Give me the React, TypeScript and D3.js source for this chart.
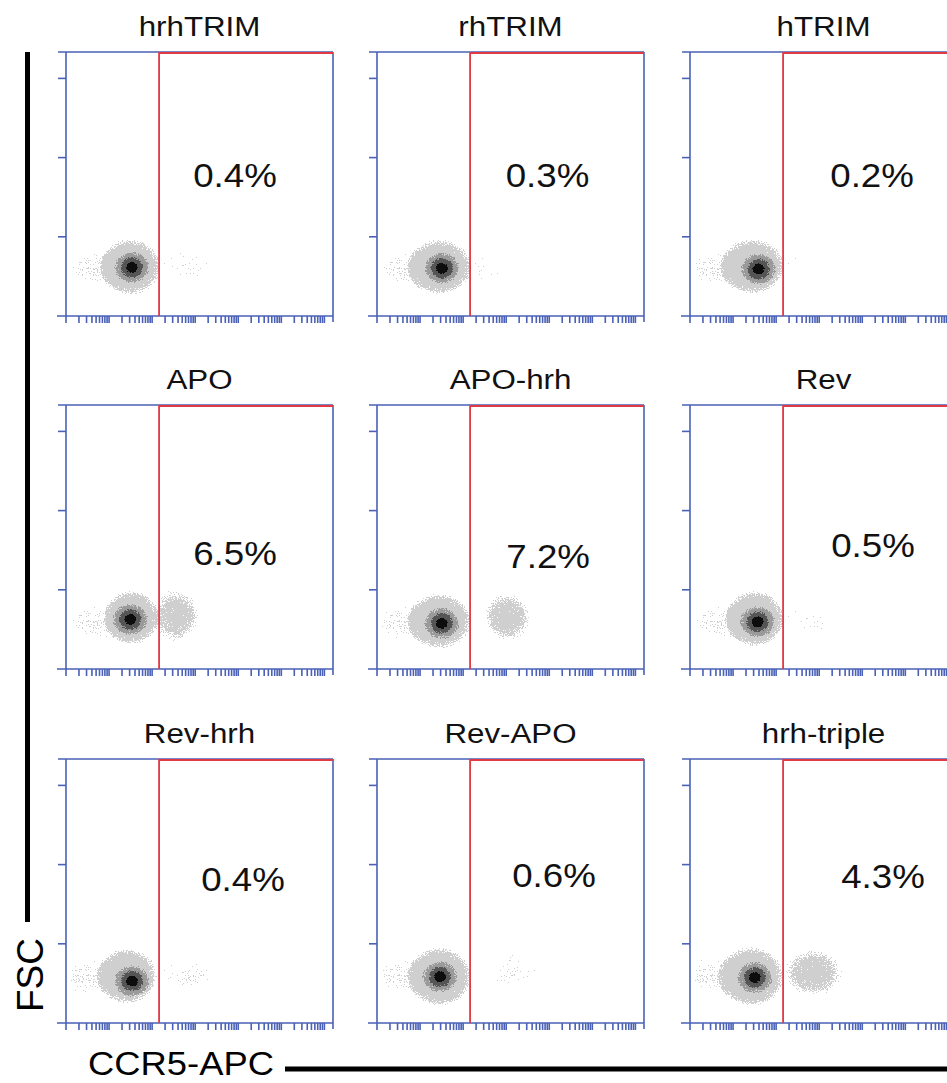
import {useEffect, useRef} from "react"

import * as d3 from "d3"

// one panel per construct, read left to right, top to bottom
const panelTitles = ["hrhTRIM", "rhTRIM", "hTRIM", "APO", "APO-hrh", "Rev", "Rev-hrh", "Rev-APO", "hrh-triple"]
const positivePercent = [0.4, 0.3, 0.2, 6.5, 7.2, 0.5, 0.4, 0.6, 4.3]
const gateCCR5 = 145
const fscTicks = [300, 600, 900]

// CCR5- population: density peak
const peakCCR5 = [34, 32, 39, 31, 32, 37, 34, 29, 32]
const peakFSC = [184, 181, 178, 188, 173, 179, 159, 175, 172]
// CCR5- population: bulk of the events
const bulkCCR5 = [31, 28, 28, 33, 28, 32, 26, 28, 26]
const bulkFSC = [186, 186, 188, 195, 182, 191, 178, 176, 176]
const bulkSpreadLog = [0.7, 0.74, 0.74, 0.64, 0.74, 0.68, 0.7, 0.74, 0.76]
const bulkSpreadFSC = [106, 104, 104, 102, 104, 106, 104, 112, 112]
// dim tail towards low CCR5
const tailCCR5 = [5, 4.5, 4, 5, 4, 5.5, 3.5, 4, 3.5]
const tailFSC = [178, 172, 174, 170, 172, 172, 172, 174, 174]
// CCR5+ events
const posCCR5 = [600, 300, 330, 360, 1050, 560, 700, 1350, 720]
const posFSC = [197, 167, 186, 201, 197, 174, 178, 197, 191]
const posSpreadLog = [0.72, 0.45, 0.5, 0.55, 0.55, 0.75, 0.72, 0.6, 0.68]
const posSpreadFSC = [80, 70, 66, 100, 92, 66, 60, 86, 90]
const posDensity = [0.32, 0.3, 0.25, 0.82, 0.85, 0.3, 0.38, 0.34, 0.85]
// where the percentage is printed
const labelCCR5 = [8400, 9100, 16900, 8400, 9400, 17800, 12900, 12900, 30300]
const labelFSC = [489, 489, 489, 394, 383, 424, 500, 515, 511]

const panelLeft = [66, 377, 690]
const panelTop = [52, 405, 759]
const pw = 267
const ph = 264
const blue = "#4a61b6"
const red = "#e23a44"
const font = "'Liberation Sans', Arial, Helvetica, sans-serif"

const levels = [
  {id: "lv0", color: "#cfcfcf"},
  {id: "lv1", color: "#9a9a9a"},
  {id: "lv2", color: "#555555"},
  {id: "lv3", color: "#0d0d0d"},
]
const coreSizes = [[18, 16], [12, 11], [6.5, 6]]

const App = () => {
  const ref = useRef<SVGSVGElement>(null)
  useEffect(() => {
    const svg = d3.select(ref.current)
    svg.selectAll("*").remove()

    const x = d3.scaleLog().domain([1, 10 ** 6.2]).range([0, pw])
    const y = d3.scaleLinear().domain([0, 1000]).range([ph, 0])
    const decade = x(10) - x(1)
    const fscPx = (v: number) => y(0) - y(v)

    const defs = svg.append("defs")
    const grad = defs.append("radialGradient").attr("id", "blob")
    ;[[0, 1], [0.5, 0.95], [0.75, 0.75], [0.9, 0.52], [1, 0.3]].forEach(([o, a]) =>
      grad.append("stop").attr("offset", o).attr("stop-color", "#000").attr("stop-opacity", a))
    const soft = defs.append("radialGradient").attr("id", "soft")
    ;[[0, 1], [0.6, 0.8], [1, 0.25]].forEach(([o, a]) =>
      soft.append("stop").attr("offset", o).attr("stop-color", "#000").attr("stop-opacity", a))

    levels.forEach((lv) => {
      const f = defs.append("filter").attr("id", lv.id)
        .attr("filterUnits", "userSpaceOnUse")
        .attr("x", -10).attr("y", -10).attr("width", pw + 20).attr("height", ph + 20)
        .attr("color-interpolation-filters", "sRGB")
      f.append("feTurbulence").attr("type", "fractalNoise").attr("baseFrequency", 0.8)
        .attr("numOctaves", 2).attr("seed", 5).attr("result", "noise")
      f.append("feColorMatrix").attr("in", "noise").attr("type", "matrix")
        .attr("values", "0 0 0 0 0  0 0 0 0 0  0 0 0 0 0  1 0 0 0 0").attr("result", "na")
      f.append("feComposite").attr("in", "SourceAlpha").attr("in2", "na").attr("operator", "arithmetic")
        .attr("k1", 0).attr("k2", 1).attr("k3", -1).attr("k4", 0.5).attr("result", "diff")
      f.append("feComponentTransfer").attr("in", "diff").attr("result", "mask")
        .append("feFuncA").attr("type", "discrete").attr("tableValues", "0 1")
      f.append("feFlood").attr("flood-color", lv.color).attr("result", "ink")
      f.append("feComposite").attr("in", "ink").attr("in2", "mask").attr("operator", "in")
    })
    defs.append("clipPath").attr("id", "frame")
      .append("rect").attr("x", 0).attr("y", 0).attr("width", pw).attr("height", ph)

    const ccr5Ticks: number[] = []
    for (let p = 0; p <= 6; p++) for (let m = 1; m <= 9; m++) {
      const v = m * 10 ** p
      if (v <= 10 ** 6.2) ccr5Ticks.push(v)
    }

    panelTitles.forEach((title, i) => {
      const g = svg.append("g")
        .attr("transform", `translate(${panelLeft[i % 3]},${panelTop[Math.floor(i / 3)]})`)

      const dots = g.append("g").attr("clip-path", "url(#frame)")
      const light = dots.append("g").attr("filter", "url(#lv0)")
      light.append("ellipse")
        .attr("cx", x(tailCCR5[i])).attr("cy", y(tailFSC[i]))
        .attr("rx", 0.75 * decade).attr("ry", fscPx(80))
        .attr("fill", "url(#soft)").attr("fill-opacity", 0.4)
      light.append("ellipse")
        .attr("cx", x(posCCR5[i])).attr("cy", y(posFSC[i]))
        .attr("rx", posSpreadLog[i] * decade).attr("ry", fscPx(posSpreadFSC[i]))
        .attr("fill", "url(#soft)").attr("fill-opacity", posDensity[i])
      light.append("ellipse")
        .attr("cx", x(bulkCCR5[i])).attr("cy", y(bulkFSC[i]))
        .attr("rx", bulkSpreadLog[i] * decade).attr("ry", fscPx(bulkSpreadFSC[i]))
        .attr("fill", "url(#blob)")

      coreSizes.forEach(([rx, ry], k) => {
        dots.append("ellipse")
          .attr("filter", `url(#${levels[k + 1].id})`)
          .attr("cx", x(peakCCR5[i])).attr("cy", y(peakFSC[i]))
          .attr("rx", rx).attr("ry", ry)
          .attr("fill", "url(#blob)")
      })

      // frame
      const axis = g.append("g").attr("stroke", blue).attr("stroke-width", 1.6).attr("fill", "none")
      axis.append("line").attr("x1", 0).attr("x2", 0).attr("y1", 0).attr("y2", ph)
      axis.append("line").attr("x1", pw).attr("x2", pw).attr("y1", 0).attr("y2", ph + 6)
      axis.append("line").attr("x1", -8).attr("x2", pw).attr("y1", 0).attr("y2", 0)
      axis.append("line").attr("x1", -9).attr("x2", pw).attr("y1", ph).attr("y2", ph)
      fscTicks.forEach((t) => {
        axis.append("line").attr("x1", -8).attr("x2", 0).attr("y1", y(t)).attr("y2", y(t))
      })
      axis.selectAll("line.xt").data(ccr5Ticks).join("line")
        .attr("class", "xt")
        .attr("x1", (d) => x(d)).attr("x2", (d) => x(d))
        .attr("y1", ph).attr("y2", ph + 7)

      // gate
      const gx = x(gateCCR5)
      g.append("path")
        .attr("d", `M${gx},${ph}V1H${pw}`)
        .attr("stroke", red).attr("stroke-width", 1.8).attr("fill", "none")

      g.append("text")
        .attr("transform", `translate(${pw / 2},-16) scale(1.16,1)`)
        .attr("text-anchor", "middle").attr("font-size", 27).attr("font-family", font)
        .attr("fill", "#111")
        .text(title)
      g.append("text")
        .attr("transform", `translate(${x(labelCCR5[i])},${y(labelFSC[i])}) scale(1.13,1)`)
        .attr("text-anchor", "middle").attr("font-size", 32.5).attr("font-family", font)
        .attr("fill", "#111")
        .text(`${positivePercent[i]}%`)
    })

    // axis captions
    svg.append("line").attr("x1", 27.5).attr("x2", 27.5).attr("y1", 52).attr("y2", 922)
      .attr("stroke", "#000").attr("stroke-width", 5)
    svg.append("text")
      .attr("transform", "translate(43,975) rotate(-90)")
      .attr("text-anchor", "middle").attr("font-size", 37).attr("font-family", font)
      .text("FSC")
    svg.append("line").attr("x1", 285).attr("x2", 947).attr("y1", 1069).attr("y2", 1069)
      .attr("stroke", "#000").attr("stroke-width", 5)
    svg.append("text")
      .attr("transform", "translate(181,1075) scale(1.07,1)")
      .attr("text-anchor", "middle").attr("font-size", 34).attr("font-family", font)
      .text("CCR5-APC")
  }, [])

  return (
    <svg
      ref={ref}
      width={947}
      height={1083}
      style={{position: "absolute", left: 0, top: 0, background: "#fff", overflow: "hidden"}}
    />
  )
}

export default App
